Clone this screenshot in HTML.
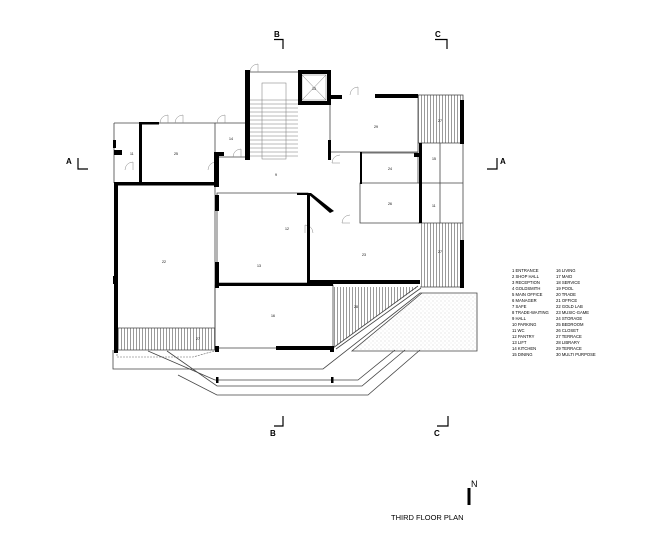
<!DOCTYPE html>
<html><head><meta charset="utf-8"><style>
html,body{margin:0;padding:0;background:#fff}
svg{display:block}
text{font-family:"Liberation Sans",sans-serif}
</style></head><body>
<svg width="649" height="545" viewBox="0 0 649 545" xmlns="http://www.w3.org/2000/svg">
<defs>
<pattern id="hatch" width="3" height="3" patternUnits="userSpaceOnUse"><line x1="1.5" y1="0" x2="1.5" y2="3" stroke="#555" stroke-width="0.6"/></pattern>
<pattern id="dots" width="4" height="4" patternUnits="userSpaceOnUse"><circle cx="1" cy="1" r="0.4" fill="#999"/><circle cx="3" cy="3" r="0.4" fill="#bbb"/></pattern>
</defs>
<g font-size="8" font-weight="bold" fill="#000">
<text x="274" y="37">B</text><path d="M274 39.5H283V49" fill="none" stroke="#000" stroke-width="1.2"/>
<text x="435" y="37">C</text><path d="M435 39.5H447V49" fill="none" stroke="#000" stroke-width="1.2"/>
<text x="66" y="164">A</text><path d="M78 158V169H88" fill="none" stroke="#000" stroke-width="1.2"/>
<text x="500" y="164">A</text><path d="M497 158V169H487" fill="none" stroke="#000" stroke-width="1.2"/>
<text x="270" y="436">B</text><path d="M274 426H283V416" fill="none" stroke="#000" stroke-width="1.2"/>
<text x="434" y="436">C</text><path d="M437 426H448V416" fill="none" stroke="#000" stroke-width="1.2"/>
</g>
<rect x="418" y="95" width="45" height="48" fill="url(#hatch)"/>
<rect x="420" y="223" width="43" height="64" fill="url(#hatch)"/>
<rect x="118" y="328" width="97" height="22" fill="url(#hatch)"/>
<polygon points="333,287 418,287 333,348" fill="url(#hatch)"/>
<polygon points="422,293 477,293 477,351 352,351" fill="url(#dots)"/>
<g stroke="#777" stroke-width="0.5" fill="none">
<rect x="262" y="83" width="24" height="76"/>
<path d="M250 100H298M250 104H298M250 108H298M250 112H298M250 116H298M250 120H298M250 124H298M250 128H298M250 132H298M250 136H298M250 140H298M250 144H298M250 148H298M250 152H298M250 156H298"/>
<rect x="302" y="75" width="24" height="25"/><path d="M302 75L326 100M326 75L302 100"/>
</g>
<g stroke="#444" stroke-width="0.8" fill="none">
<path d="M114 123H140V183M114 123V183"/>
<path d="M140 123H215V183H140"/>
<path d="M215 123H248V157H215"/>
<path d="M330 95V152H418V95H463V287H420"/>
<path d="M360 153H418V183H360V223H420"/>
<path d="M418 143H463M418 183H463M418 223H463M440 143V223"/>
<path d="M217 193H308V283H217Z"/>
<path d="M308 193V282H420"/>
<path d="M215 285H333V348H215Z"/>
<path d="M115 183H215V350H115Z"/>
<path d="M118 328H215"/>
<path d="M247 72H300"/>
<path d="M333 348L418 286M336 349L421 288"/>
<path d="M113 350V369H323L420 293H477V351H352L422 293"/>
<path d="M148 351L215 380H358L395 350"/>
<path d="M167 351L217 386H362L405 350"/>
<path d="M178 375L217 395H368L420 350"/>
</g>
<path d="M117 351V357H193L218 350" fill="none" stroke="#666" stroke-width="0.6" stroke-dasharray="2,1"/>
<g stroke="#888" stroke-width="0.5" fill="none">
<path d="M160 123A8 8 0 0 1 168 115V123M175 123A8 8 0 0 1 183 115V123M217 123A8 8 0 0 1 225 115V123M350 95A8 8 0 0 1 358 87V95M250 72A8 8 0 0 1 258 64V72M233 157A8 8 0 0 1 241 149V157M208 170A8 8 0 0 1 216 162V170M340 155A8 8 0 0 0 332 163H340M350 215A8 8 0 0 0 342 223H350M313 233A8 8 0 0 0 305 225V233M125 170A8 8 0 0 1 133 162V170"/>
</g>
<g fill="#000">
<rect x="245" y="70" width="5" height="90"/>
<rect x="298" y="70" width="33" height="4"/>
<rect x="298" y="70" width="4" height="35"/><rect x="327" y="70" width="4" height="35"/>
<rect x="298" y="101" width="33" height="4"/>
<rect x="330" y="95" width="12" height="4"/><rect x="375" y="94" width="43" height="4"/>
<rect x="328" y="140" width="3" height="20"/>
<rect x="139" y="122" width="3" height="62"/>
<rect x="139" y="122" width="20" height="2.5"/>
<rect x="114" y="183" width="4" height="170"/>
<rect x="114" y="182" width="103" height="3.5"/>
<rect x="114" y="150" width="8" height="5"/>
<rect x="214" y="152" width="5" height="35"/>
<rect x="214" y="152" width="10" height="4"/>
<rect x="215" y="195" width="4" height="16"/>
<rect x="215" y="262" width="4" height="26"/>
<rect x="215" y="283" width="118" height="3"/>
<rect x="307" y="280" width="113" height="4"/>
<rect x="307" y="193" width="3" height="90"/>
<rect x="297" y="193" width="11" height="2"/>
<polygon points="307,193 311,193 334,211 330,213"/>
<rect x="360" y="152" width="2" height="32"/>
<rect x="414" y="153" width="6" height="4"/>
<rect x="460" y="100" width="4" height="44"/>
<rect x="460" y="240" width="4" height="48"/>
<rect x="419" y="143" width="3" height="80"/>
<rect x="215" y="346" width="4" height="6"/>
<rect x="276" y="346" width="57" height="4"/>
<rect x="114" y="348" width="4" height="5"/>
<rect x="330" y="346" width="4" height="6"/>
<rect x="216" y="377" width="2.5" height="6"/><rect x="331" y="377" width="2.5" height="6"/>
<rect x="113" y="276" width="3" height="8"/>
<rect x="113" y="140" width="3" height="8"/>
</g>
<g font-size="3.5" fill="#000">
<text x="174" y="155">25</text><text x="130" y="155">11</text><text x="229" y="140">14</text>
<text x="275" y="176">9</text><text x="312" y="90">13</text><text x="374" y="128">29</text>
<text x="438" y="122">27</text><text x="388" y="170">24</text><text x="388" y="205">26</text>
<text x="432" y="160">15</text><text x="432" y="207">11</text><text x="285" y="230">12</text>
<text x="257" y="267">13</text><text x="362" y="256">23</text><text x="438" y="253">27</text>
<text x="162" y="263">22</text><text x="271" y="317">16</text><text x="354" y="308">28</text>
<text x="196" y="340">27</text>
</g>
<g font-size="4.2" fill="#000">
<text x="512" y="272">1 ENTRANCE</text><text x="512" y="278">2 SHOP HALL</text><text x="512" y="284">3 RECEPTION</text>
<text x="512" y="290">4 GOLDSMITH</text><text x="512" y="296">5 MAIN OFFICE</text><text x="512" y="302">6 MANAGER</text>
<text x="512" y="308">7 SAFE</text><text x="512" y="314">8 TRADE-WAITING</text><text x="512" y="320">9 HALL</text>
<text x="512" y="326">10 PARKING</text><text x="512" y="332">11 WC</text><text x="512" y="338">12 PANTRY</text>
<text x="512" y="344">13 LIFT</text><text x="512" y="350">14 KITCHEN</text><text x="512" y="356">15 DINING</text>
<text x="556" y="272">16 LIVING</text><text x="556" y="278">17 MAID</text><text x="556" y="284">18 SERVICE</text>
<text x="556" y="290">19 POOL</text><text x="556" y="296">20 TRADE</text><text x="556" y="302">21 OFFICE</text>
<text x="556" y="308">22 GOLD LAB</text><text x="556" y="314">23 MUSIC-GAME</text><text x="556" y="320">24 STORAGE</text>
<text x="556" y="326">25 BEDROOM</text><text x="556" y="332">26 CLOSET</text><text x="556" y="338">27 TERRACE</text>
<text x="556" y="344">28 LIBRARY</text><text x="556" y="350">29 TERRACE</text><text x="556" y="356">30 MULTI PURPOSE</text>
</g>
<rect x="467.5" y="488" width="3" height="17" fill="#000"/>
<text x="471" y="487" font-size="9" fill="#000">N</text>
<text x="391" y="520" font-size="7.5" fill="#000">THIRD FLOOR PLAN</text>
</svg>
</body></html>
